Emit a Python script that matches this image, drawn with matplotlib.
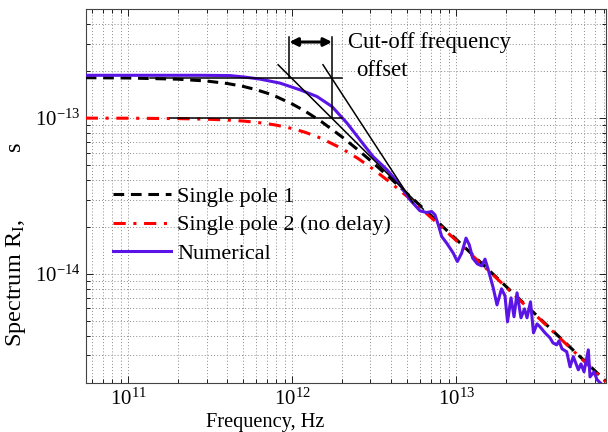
import matplotlib
matplotlib.use("Agg")
import matplotlib.pyplot as plt
from matplotlib.ticker import LogLocator, FixedLocator, LogFormatterMathtext, NullFormatter

plt.rcParams['font.family'] = ['Liberation Serif', 'DejaVu Serif']
plt.rcParams['mathtext.fontset'] = 'custom'
plt.rcParams['mathtext.rm'] = 'Liberation Serif'
plt.rcParams['mathtext.it'] = 'Liberation Serif:italic'
plt.rcParams['mathtext.default'] = 'rm'

# ---------------- data ----------------
sp_freq = [5.5e10, 1e11, 2e11, 3e11, 4e11, 5e11, 6e11, 7e11, 8e11, 1e12, 1.2e12, 1.5e12,
           2e12, 2.5e12, 3e12, 4e12, 5e12, 6e12, 8e12, 1e13, 1.5e13, 2e13, 3e13, 5e13, 8.2e13]
single_pole_1 = [1.817e-13, 1.809e-13, 1.778e-13, 1.730e-13, 1.669e-13, 1.599e-13, 1.524e-13,
                 1.448e-13, 1.373e-13, 1.232e-13, 1.107e-13, 9.52e-14, 7.61e-14, 6.29e-14,
                 5.34e-14, 4.08e-14, 3.29e-14, 2.76e-14, 2.08e-14, 1.667e-14, 1.114e-14,
                 8.36e-15, 5.58e-15, 3.349e-15, 2.042e-15]
single_pole_2 = [9.995e-14, 9.982e-14, 9.928e-14, 9.84e-14, 9.722e-14, 9.575e-14, 9.405e-14,
                 9.214e-14, 9.008e-14, 8.566e-14, 8.104e-14, 7.42e-14, 6.387e-14, 5.532e-14,
                 4.842e-14, 3.833e-14, 3.151e-14, 2.666e-14, 2.032e-14, 1.638e-14, 1.1e-14,
                 8.27e-15, 5.525e-15, 3.318e-15, 2.024e-15]

num_freq = [5.51e10, 2.74e11, 4.17e11, 5.14e11, 6.35e11, 8.41e11, 1.114e12, 1.415e12, 1.747e12,
            2.157e12, 2.589e12, 3.108e12, 3.783e12, 4.540e12, 5.225e12, 6.013e12, 6.607e12,
            7.088e12, 7.425e12, 7.778e12, 8.157e12, 8.75e12, 9.60e12, 1.016e13, 1.080e13,
            1.148e13, 1.202e13, 1.261e13, 1.345e13, 1.431e13, 1.499e13, 1.570e13, 1.684e13,
            1.774e13, 1.890e13, 1.985e13, 2.056e13, 2.160e13, 2.253e13, 2.350e13, 2.485e13,
            2.611e13, 2.704e13, 2.840e13, 2.962e13, 3.112e13, 3.246e13, 3.482e13, 3.735e13,
            3.895e13, 4.103e13, 4.238e13, 4.420e13, 4.723e13, 4.947e13, 5.182e13, 5.559e13,
            5.773e13, 6.022e13, 6.397e13, 6.551e13, 6.93e13, 7.23e13, 7.90e13]
numerical = [1.883e-13, 1.883e-13, 1.875e-13, 1.834e-13, 1.780e-13, 1.678e-13, 1.520e-13,
             1.376e-13, 1.187e-13, 9.29e-14, 7.25e-14, 5.67e-14, 4.66e-14, 3.73e-14, 2.99e-14,
             2.54e-14, 2.475e-14, 2.512e-14, 2.393e-14, 2.064e-14, 1.737e-14, 1.575e-14,
             1.358e-14, 1.2e-14, 1.358e-14, 1.696e-14, 1.536e-14, 1.261e-14, 1.159e-14,
             1.125e-14, 1.243e-14, 1.061e-14, 8.09e-15, 6.32e-15, 8.01e-15, 7.22e-15, 4.92e-15,
             7.01e-15, 5.30e-15, 7.55e-15, 5.22e-15, 5.96e-15, 5.22e-15, 6.61e-15, 4.18e-15,
             4.77e-15, 4.57e-15, 4.18e-15, 3.88e-15, 3.60e-15, 3.50e-15, 3.71e-15, 3.30e-15,
             3.16e-15, 2.53e-15, 2.94e-15, 2.42e-15, 2.64e-15, 2.35e-15, 3.25e-15, 2.18e-15,
             2.35e-15, 2.09e-15, 1.91e-15]

labels = ['Single pole 1', 'Single pole 2 (no delay)', 'Numerical']
x_major_ticks = [1e11, 1e12, 1e13]
y_major_ticks = [1e-14, 1e-13]

# annotation geometry (data coordinates)
level_1 = 1.82e-13
level_2 = 1.0e-13
fc_left = 9.6e11
fc_right = 1.75e12
hline1_span = (1.36e11, 2.01e12)
hline2_span = (1.8e11, 2.01e12)
tangent_a = ((8.2e11, 2.2e-13), (6.3e12, 2.6e-14))
tangent_b = ((1.54e12, 2.2e-13), (5.45e12, 2.86e-14))
arrow_y = 3.08e-13
vline_top = 3.33e-13

# ---------------- figure ----------------
fig = plt.figure(figsize=(6.08, 4.32), dpi=100)
ax = fig.add_axes([86/608, 49.3/432, 520/608, 374/432])
ax.set_xscale('log')
ax.set_yscale('log')

purple = '#5a14e6'
lw = 2.2
l1, = ax.plot(sp_freq, single_pole_1, color='black', lw=lw, dashes=(3.5, 2.2), zorder=3)
l2, = ax.plot(sp_freq, single_pole_2, color='red', lw=lw, dashes=(4, 2.5, 1, 2.5), zorder=4)
l3, = ax.plot(num_freq, numerical, color=purple, lw=lw, solid_joinstyle='round', zorder=5)

# annotation lines
kw = dict(color='black', lw=1.1, zorder=6)
ax.plot(hline1_span, (level_1, level_1), **kw)
ax.plot(hline2_span, (level_2, level_2), **kw)
ax.plot((fc_left, fc_left), (level_1, vline_top), **kw)
ax.plot((fc_right, fc_right), (level_2, vline_top), **kw)
ax.plot([p[0] for p in tangent_a], [p[1] for p in tangent_a], **kw)
ax.plot([p[0] for p in tangent_b], [p[1] for p in tangent_b], **kw)
ax.annotate('', xy=(fc_left, arrow_y), xytext=(fc_right, arrow_y),
            arrowprops=dict(arrowstyle='<|-|>', lw=2.2, color='black',
                            mutation_scale=12, shrinkA=0, shrinkB=0), zorder=7)
ax.text(0.504, 0.895, 'Cut-off frequency', transform=ax.transAxes, fontsize=16.3,
        ha='left', va='baseline')
ax.text(0.519, 0.821, 'offset', transform=ax.transAxes, fontsize=16.3,
        ha='left', va='baseline')

ax.set_xlim(5.52e10, 8.2e13)
ax.set_ylim(2e-15, 5.04e-13)

ax.xaxis.set_major_locator(FixedLocator(x_major_ticks))
ax.xaxis.set_minor_locator(LogLocator(base=10, subs=range(2, 10), numticks=20))
ax.yaxis.set_major_locator(FixedLocator(y_major_ticks))
ax.yaxis.set_minor_locator(LogLocator(base=10, subs=range(2, 10), numticks=20))
ax.xaxis.set_major_formatter(LogFormatterMathtext())
ax.yaxis.set_major_formatter(LogFormatterMathtext())
ax.xaxis.set_minor_formatter(NullFormatter())
ax.yaxis.set_minor_formatter(NullFormatter())

ax.tick_params(which='both', direction='in', top=True, right=True, width=0.6, labelsize=15)
ax.tick_params(which='major', length=5, pad=4)
ax.tick_params(which='minor', length=3)
ax.grid(True, which='both', color='#8a8a8a', lw=0.7, linestyle=(0, (1, 2.2)))
for s in ax.spines.values():
    s.set_linewidth(0.8)
    s.set_color('#444444')

ax.set_xlabel('Frequency, Hz', fontsize=14.7)
ax.xaxis.set_label_coords(0.344, -0.080)
ax.set_ylabel('Spectrum R$_{\\rm I}$,' + ' ' * 11 + 's', fontsize=17.5)
ax.yaxis.set_label_coords(-0.112, 0.37)

leg = ax.legend([l1, l2, l3], labels, loc='upper left', frameon=False, fontsize=16,
                bbox_to_anchor=(113/608, 1 - 186/432), bbox_transform=fig.transFigure,
                borderpad=0, borderaxespad=0, handlelength=2.6, handletextpad=0.3,
                labelspacing=0.37)

fig.savefig('out.png', dpi=100)
